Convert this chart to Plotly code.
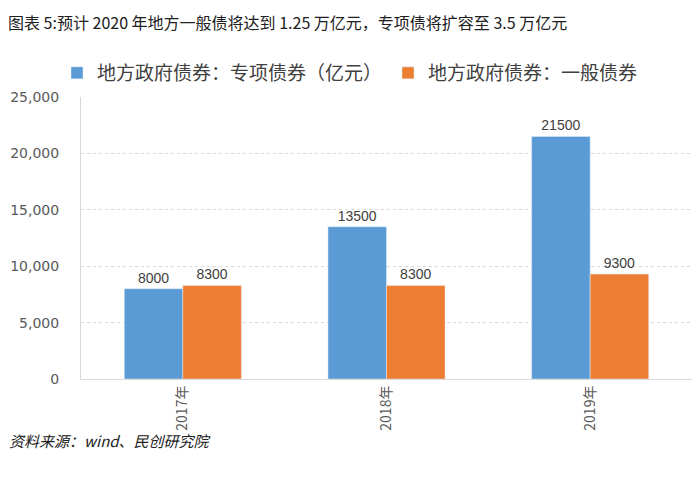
import plotly.graph_objects as go

years = ["2017年", "2018年", "2019年"]
special_bonds = [8000, 13500, 21500]
general_bonds = [8300, 8300, 9300]
y_ticks = [0, 5000, 10000, 15000, 20000, 25000]

title_text = "图表 5:预计 2020 年地方一般债将达到 1.25 万亿元，专项债将扩容至 3.5 万亿元"
source_text = "资料来源：wind、民创研究院"

cjk = "Noto Sans CJK SC"
# the page body has an 8px margin, so the figure is drawn 8px smaller
OFF = 8
W, H = 700 - OFF, 482 - OFF
L, R, T, B = 81 - OFF, 8, 97 - OFF, 103
pw, ph = W - L - R, H - T - B

def px_x(x):
    # window pixel -> paper fraction
    return (x - OFF - L) / pw

def px_y(y):
    return (H - B - (y - OFF)) / ph

fig = go.Figure()
fig.add_trace(go.Bar(
    x=years, y=special_bonds, name="地方政府债券：专项债券（亿元）",
    marker_color="#5B9BD5", text=special_bonds, textposition="outside",
    textfont=dict(size=14, color="#404040", family="Arial"),
    cliponaxis=False, legend="legend",
))
fig.add_trace(go.Bar(
    x=years, y=general_bonds, name="地方政府债券：一般债券",
    marker_color="#ED7D31", text=general_bonds, textposition="outside",
    textfont=dict(size=14, color="#404040", family="Arial"),
    cliponaxis=False, legend="legend2",
))

leg_font = dict(size=19, color="#404040", family=cjk)
fig.update_layout(
    width=W, height=H,
    margin=dict(l=L, r=R, t=T, b=B, autoexpand=False),
    paper_bgcolor="white", plot_bgcolor="white",
    barmode="group", bargap=0.425, bargroupgap=0,
    font=dict(family=cjk, color="#404040"),
    showlegend=True,
    legend=dict(orientation="h", x=px_x(57), xanchor="left",
                y=px_y(73), yanchor="middle", font=leg_font, itemwidth=30),
    legend2=dict(orientation="h", x=px_x(388), xanchor="left",
                 y=px_y(73), yanchor="middle", font=leg_font, itemwidth=30),
)
fig.add_annotation(text=title_text, xref="paper", yref="paper",
                   x=px_x(6), y=px_y(8), xanchor="left", yanchor="top",
                   showarrow=False, font=dict(size=16, color="#202020", family=cjk))
fig.add_annotation(text="<i>" + source_text + "</i>", xref="paper", yref="paper",
                   x=px_x(7), y=px_y(440), xanchor="left", yanchor="middle",
                   showarrow=False, font=dict(size=15, color="#202020", family=cjk))

fig.update_xaxes(
    tickangle=-90, tickfont=dict(size=14, color="#595959", family=cjk),
    showline=True, linecolor="#D9D9D9", linewidth=1, ticks="",
)
fig.update_yaxes(
    range=[0, 25000], tickvals=y_ticks, tickformat=",",
    tickfont=dict(size=14, color="#595959", family="DejaVu Sans"),
    showgrid=True, gridcolor="#D9D9D9", griddash="dot", gridwidth=1,
    showline=True, linecolor="#D9D9D9", linewidth=1,
    zeroline=False, ticks="", ticklabelstandoff=18,
)

fig.write_html("out.html")
